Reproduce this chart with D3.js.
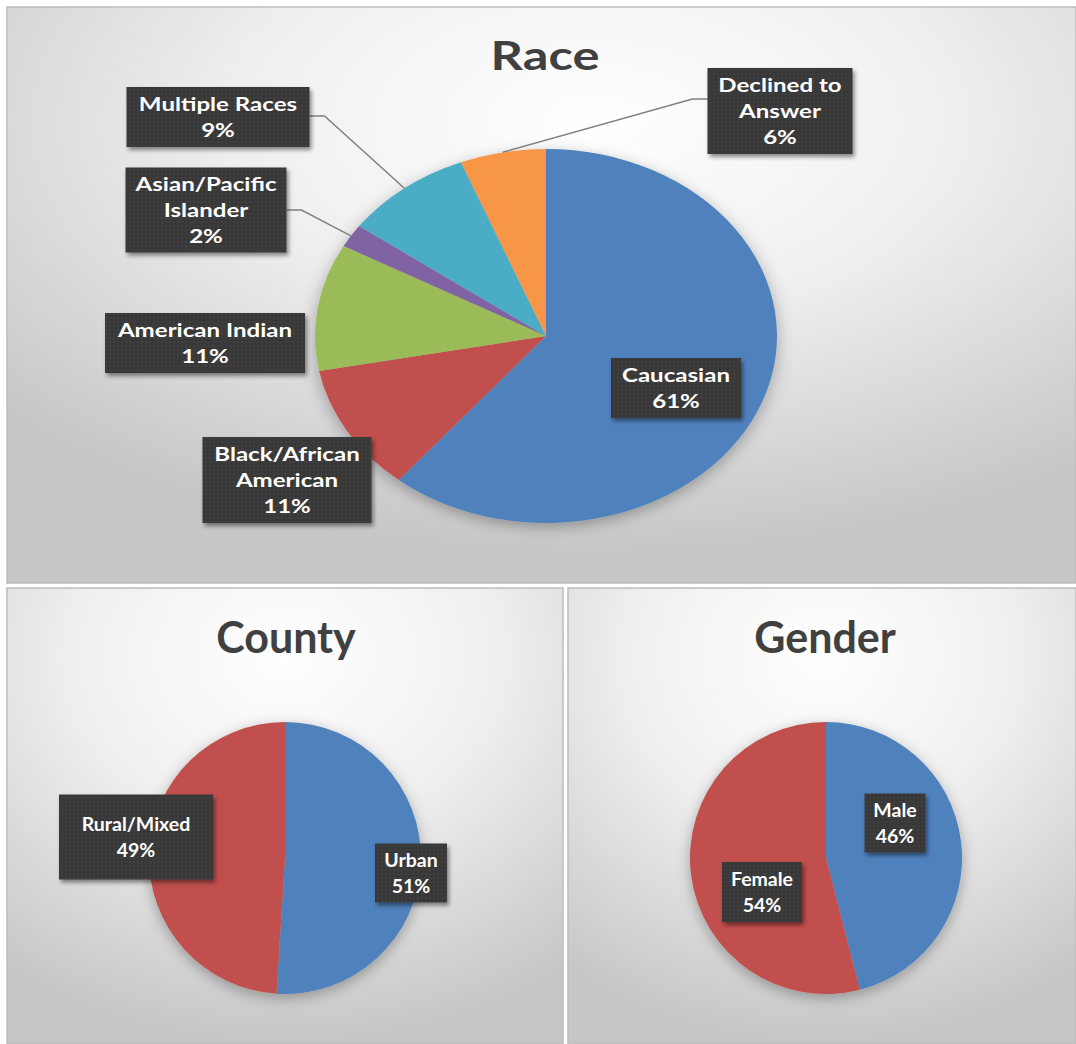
<!DOCTYPE html>
<html>
<head>
<meta charset="utf-8">
<script src="https://cdn.jsdelivr.net/npm/d3@7"></script>
<style>
  html, body { margin: 0; padding: 0; background: #ffffff; }
  svg { display: block; }
</style>
</head>
<body>
<svg id="chart" width="1076" height="1044"></svg>
<script>
// ---------------- DATA ----------------
const raceCategories = ["Caucasian", "Black/African American", "American Indian", "Asian/Pacific Islander", "Multiple Races", "Declined to Answer"];
const raceValues = [61, 11, 11, 2, 9, 6];
const raceLabelLines = [["Caucasian"], ["Black/African", "American"], ["American Indian"], ["Asian/Pacific", "Islander"], ["Multiple Races"], ["Declined to", "Answer"]];

const countyCategories = ["Urban", "Rural/Mixed"];
const countyValues = [51, 49];
const countyLabelLines = [["Urban"], ["Rural/Mixed"]];

const genderCategories = ["Male", "Female"];
const genderValues = [46, 54];
const genderLabelLines = [["Male"], ["Female"]];

const titles = ["Race", "County", "Gender"];

// ---------------- STYLE / LAYOUT ----------------
const raceColors = ["#4f81bd", "#c0504d", "#9bbb59", "#8064a2", "#4bacc6", "#f79646"];
const twoColors = ["#4f81bd", "#c0504d"];

// label boxes: center x/y, width, height, optional leader attach (side, y)
const raceLabelLayout = [
  {cx: 676, cy: 388, w: 130, h: 60},
  {cx: 287, cy: 480, w: 169, h: 86},
  {cx: 205, cy: 343, w: 200, h: 60},
  {cx: 206, cy: 210, w: 161, h: 85, side: "right", ly: 210},
  {cx: 218, cy: 117, w: 183, h: 60, side: "right", ly: 116},
  {cx: 780, cy: 111, w: 145, h: 86, side: "left", ly: 99}
];
const countyLabelLayout = [
  {cx: 411, cy: 873, w: 72, h: 59},
  {cx: 136, cy: 837, w: 154, h: 85}
];
const genderLabelLayout = [
  {cx: 895, cy: 823, w: 61, h: 59},
  {cx: 762, cy: 892, w: 80, h: 60}
];

const svg = d3.select("#chart");
const defs = svg.append("defs");

// panel gradients
function radialGrad(id, cx, cy, r) {
  const g = defs.append("radialGradient").attr("id", id)
    .attr("cx", cx).attr("cy", cy).attr("r", r);
  g.append("stop").attr("offset", "0%").attr("stop-color", "#ffffff");
  g.append("stop").attr("offset", "45%").attr("stop-color", "#efefef");
  g.append("stop").attr("offset", "100%").attr("stop-color", "#c6c6c6");
}
radialGrad("gTop", "55%", "20%", "75%");
radialGrad("gBot", "50%", "15%", "85%");

// dotted pattern for labels
const pat = defs.append("pattern").attr("id", "dots").attr("width", 4).attr("height", 4)
  .attr("patternUnits", "userSpaceOnUse");
pat.append("rect").attr("width", 4).attr("height", 4).attr("fill", "#383838");
pat.append("circle").attr("cx", 2).attr("cy", 2).attr("r", 0.8).attr("fill", "#4c4c4c");

// shadows
const fs = defs.append("filter").attr("id", "boxShadow").attr("x", "-20%").attr("y", "-20%").attr("width", "150%").attr("height", "150%");
fs.append("feDropShadow").attr("dx", 2).attr("dy", 3).attr("stdDeviation", 2).attr("flood-color", "#000").attr("flood-opacity", 0.45);
const ps = defs.append("filter").attr("id", "pieShadow").attr("x", "-20%").attr("y", "-20%").attr("width", "140%").attr("height", "140%");
ps.append("feDropShadow").attr("dx", 0).attr("dy", 4).attr("stdDeviation", 7).attr("flood-color", "#000").attr("flood-opacity", 0.3);

// panels
const panels = [
  {x: 7, y: 7, w: 1069, h: 576, fill: "url(#gTop)"},
  {x: 7, y: 588, w: 556, h: 456, fill: "url(#gBot)"},
  {x: 568, y: 588, w: 508, h: 456, fill: "url(#gBot)"}
];
svg.selectAll("rect.panel").data(panels).enter().append("rect")
  .attr("class", "panel")
  .attr("x", d => d.x).attr("y", d => d.y).attr("width", d => d.w).attr("height", d => d.h)
  .attr("fill", d => d.fill).attr("stroke", "#bdbdbd").attr("stroke-width", 1.5);

const FONT = "Lato, 'Open Sans', sans-serif";

function drawPie(opts) {
  const {values, colors, cx, cy, rx, ry, title, titleX, titleY, titleSize, stretch, lines, layout} = opts;
  const pie = d3.pie().sort(null).value(d => d);
  const arcs = pie(values);
  const arc = d3.arc().innerRadius(0).outerRadius(ry);
  const sx = rx / ry;

  svg.append("text")
    .attr("transform", `translate(${titleX},${titleY}) scale(${stretch},1)`)
    .attr("text-anchor", "middle")
    .attr("font-family", FONT).attr("font-weight", 700)
    .attr("font-size", titleSize).attr("fill", "#404040")
    .text(title);

  const g = svg.append("g")
    .attr("transform", `translate(${cx},${cy}) scale(${sx},1)`)
    .attr("filter", "url(#pieShadow)");
  g.selectAll("path").data(arcs).enter().append("path")
    .attr("d", arc)
    .attr("fill", (d, i) => colors[i]);

  // leader lines
  arcs.forEach((a, i) => {
    const L = layout[i];
    if (!L.side) return;
    const mid = (a.startAngle + a.endAngle) / 2;
    const px = cx + rx * Math.sin(mid);
    const py = cy - ry * Math.cos(mid);
    const bx = L.side === "right" ? L.cx + L.w / 2 : L.cx - L.w / 2;
    const ex = L.side === "right" ? bx + 15 : bx - 15;
    svg.append("path")
      .attr("d", d3.line()([[px, py], [ex, L.ly], [bx, L.ly]]))
      .attr("fill", "none").attr("stroke", "#808080").attr("stroke-width", 1.5);
  });

  // labels
  arcs.forEach((a, i) => {
    const L = layout[i];
    const pct = Math.round(100 * (a.endAngle - a.startAngle) / (2 * Math.PI)) + "%";
    const txt = lines[i].concat([pct]);
    const lg = svg.append("g");
    lg.append("rect")
      .attr("x", L.cx - L.w / 2).attr("y", L.cy - L.h / 2)
      .attr("width", L.w).attr("height", L.h)
      .attr("fill", "url(#dots)")
      .attr("filter", "url(#boxShadow)");
    const sp = 26;
    txt.forEach((t, k) => {
      const ly = L.cy - (txt.length - 1) * sp / 2 + k * sp;
      lg.append("text")
        .attr("transform", `translate(${L.cx},${ly + 7}) scale(${stretch},1)`)
        .attr("text-anchor", "middle")
        .attr("font-family", FONT).attr("font-weight", 700)
        .attr("font-size", 19.5).attr("fill", "#ffffff")
        .text(t);
    });
  });
}

drawPie({values: raceValues, colors: raceColors, cx: 546, cy: 336, rx: 231, ry: 187,
  title: titles[0], titleX: 545, titleY: 70, titleSize: 41, stretch: 1.235,
  lines: raceLabelLines, layout: raceLabelLayout});
drawPie({values: countyValues, colors: twoColors, cx: 285, cy: 858, rx: 136, ry: 136,
  title: titles[1], titleX: 286, titleY: 653, titleSize: 43, stretch: 1,
  lines: countyLabelLines, layout: countyLabelLayout});
drawPie({values: genderValues, colors: twoColors, cx: 826, cy: 858, rx: 136, ry: 136,
  title: titles[2], titleX: 825, titleY: 653, titleSize: 43, stretch: 1,
  lines: genderLabelLines, layout: genderLabelLayout});
</script>
</body>
</html>
